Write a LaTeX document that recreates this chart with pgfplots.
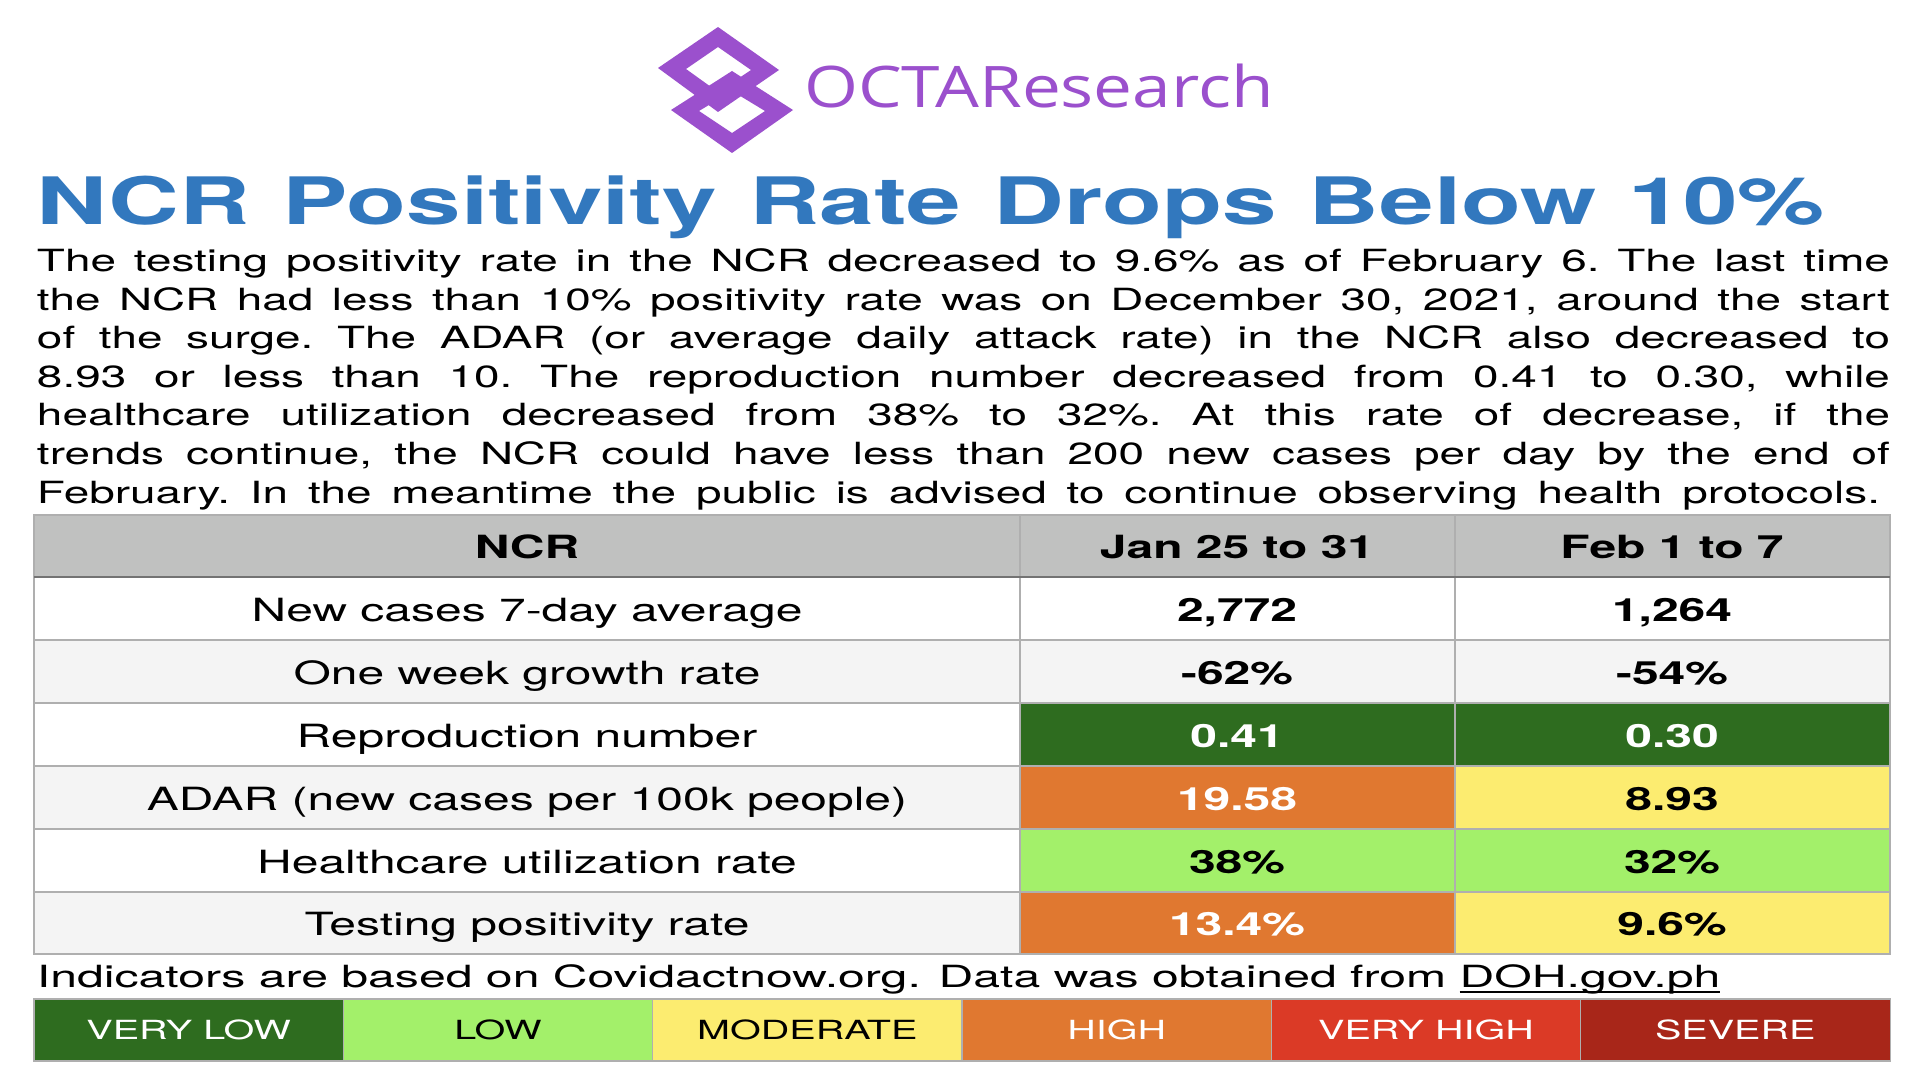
\documentclass[border=0pt]{standalone}
\usepackage{pgfplots}
\pgfplotsset{compat=1.18}
\usepackage{fontspec}
\setmainfont{TeX Gyre Heros}[FakeStretch=1.5]
\newfontfamily\logofont{Open Sans}[FakeStretch=1.21]
\definecolor{hdr}{RGB}{192,193,192}
\definecolor{alt}{RGB}{244,244,244}
\definecolor{vlow}{RGB}{46,108,31}
\definecolor{low}{RGB}{163,240,106}
\definecolor{mod}{RGB}{252,236,112}
\definecolor{high}{RGB}{224,120,48}
\definecolor{vhigh}{RGB}{219,58,38}
\definecolor{sev}{RGB}{168,38,25}
\definecolor{gridc}{RGB}{175,175,175}
\definecolor{ttl}{RGB}{50,120,190}
\definecolor{purp}{RGB}{155,80,205}
\newcommand{\cell}[5]{\addplot[draw=none,fill=#5,mark=none,forget plot] coordinates {(#1,#2) (#3,#2) (#3,#4) (#1,#4)} -- cycle;}
\newcommand{\bodyline}[3]{\node[anchor=base west] at (axis cs:37,#1) {\fontsize{8.7pt}{10pt}\selectfont\frenchspacing\makebox[#2][s]{#3}};}
\newcommand{\ul}[1]{\setbox0\hbox{#1}\rlap{\rule[-0.55mm]{\wd0}{0.2mm}}\box0}
\begin{document}
\begin{tikzpicture}[every node/.style={inner sep=0pt,outer sep=0pt}]
\begin{axis}[name=ax, width=192mm, height=108mm, scale only axis,
  xmin=0, xmax=1920, ymin=0, ymax=1080, y dir=reverse, hide axis, clip=false]
\cell{0}{0}{1920}{1080}{white}
% ---- logo
\fill[purp, even odd rule] (axis cs:658,68) -- (axis cs:718,27) -- (axis cs:779,70) -- (axis cs:718,112) -- cycle
  (axis cs:686,69) -- (axis cs:718,47) -- (axis cs:751,70) -- (axis cs:718,92) -- cycle;
\fill[purp, even odd rule] (axis cs:671,110) -- (axis cs:732,71) -- (axis cs:793,110) -- (axis cs:732,153) -- cycle
  (axis cs:699,111) -- (axis cs:732,91) -- (axis cs:765,111) -- (axis cs:732,133) -- cycle;
\node[anchor=base west, text=purp] at (axis cs:804,108) {\logofont\fontsize{16.3pt}{18pt}\selectfont OCTAResearch};
% ---- title
\node[anchor=base west, text=ttl] at (axis cs:37,225) {\fontsize{18.6pt}{20pt}\selectfont\bfseries\makebox[178.8mm][s]{NCR Positivity Rate Drops Below 10\%}};
% ---- body
\bodyline{272}{185.3mm}{The testing positivity rate in the NCR decreased to 9.6\% as of February 6. The last time}
\bodyline{310.5}{185.3mm}{the NCR had less than 10\% positivity rate was on December 30, 2021, around the start}
\bodyline{349}{185.3mm}{of the surge. The ADAR (or average daily attack rate) in the NCR also decreased to}
\bodyline{387.5}{185.3mm}{8.93 or less than 10. The reproduction number decreased from 0.41 to 0.30, while}
\bodyline{426}{185.3mm}{healthcare utilization decreased from 38\% to 32\%. At this rate of decrease, if the}
\bodyline{464.5}{185.3mm}{trends continue, the NCR could have less than 200 new cases per day by the end of}
\bodyline{503}{184.3mm}{February. In the meantime the public is advised to continue observing health protocols.}
% ---- table cells
\cell{34}{515}{1890}{577}{hdr}
\cell{34}{577}{1890}{640}{white}
\cell{34}{640}{1890}{703}{alt}
\cell{34}{703}{1020}{766}{white}
\cell{1020}{703}{1890}{766}{vlow}
\cell{34}{766}{1020}{829}{alt}
\cell{1020}{766}{1455}{829}{high}
\cell{1455}{766}{1890}{829}{mod}
\cell{34}{829}{1020}{892}{white}
\cell{1020}{829}{1890}{892}{low}
\cell{34}{892}{1020}{954}{alt}
\cell{1020}{892}{1455}{954}{high}
\cell{1455}{892}{1890}{954}{mod}
% grid
\draw[gridc, line width=0.45pt] (axis cs:34,640) -- (axis cs:1890,640);
\draw[gridc, line width=0.45pt] (axis cs:34,703) -- (axis cs:1890,703);
\draw[gridc, line width=0.45pt] (axis cs:34,766) -- (axis cs:1890,766);
\draw[gridc, line width=0.45pt] (axis cs:34,829) -- (axis cs:1890,829);
\draw[gridc, line width=0.45pt] (axis cs:34,892) -- (axis cs:1890,892);
\draw[gridc, line width=0.45pt] (axis cs:1020,515) -- (axis cs:1020,954);
\draw[gridc, line width=0.45pt] (axis cs:1455,515) -- (axis cs:1455,954);
\draw[gridc, line width=0.45pt] (axis cs:34,515) rectangle (axis cs:1890,954);
\draw[black!55, line width=0.6pt] (axis cs:34,577) -- (axis cs:1890,577);
% header text
\node[anchor=base] at (axis cs:527,558.5) {\fontsize{9.1pt}{11pt}\selectfont\bfseries NCR};
\node[anchor=base] at (axis cs:1237,558.5) {\fontsize{9.1pt}{11pt}\selectfont\bfseries Jan 25 to 31};
\node[anchor=base] at (axis cs:1672,558.5) {\fontsize{9.1pt}{11pt}\selectfont\bfseries Feb 1 to 7};
% row labels
\node[anchor=base] at (axis cs:527,621) {\fontsize{9.1pt}{11pt}\selectfont New cases 7-day average};
\node[anchor=base] at (axis cs:527,684) {\fontsize{9.1pt}{11pt}\selectfont One week growth rate};
\node[anchor=base] at (axis cs:527,747) {\fontsize{9.1pt}{11pt}\selectfont Reproduction number};
\node[anchor=base] at (axis cs:527,810) {\fontsize{9.1pt}{11pt}\selectfont ADAR (new cases per 100k people)};
\node[anchor=base] at (axis cs:527,873) {\fontsize{9.1pt}{11pt}\selectfont Healthcare utilization rate};
\node[anchor=base] at (axis cs:527,935.5) {\fontsize{9.1pt}{11pt}\selectfont Testing positivity rate};
% values
\node[anchor=base] at (axis cs:1237,621) {\fontsize{9.1pt}{11pt}\selectfont\bfseries 2,772};
\node[anchor=base] at (axis cs:1672,621) {\fontsize{9.1pt}{11pt}\selectfont\bfseries 1,264};
\node[anchor=base] at (axis cs:1237,684) {\fontsize{9.1pt}{11pt}\selectfont\bfseries -62\%};
\node[anchor=base] at (axis cs:1672,684) {\fontsize{9.1pt}{11pt}\selectfont\bfseries -54\%};
\node[anchor=base, text=white] at (axis cs:1237,747) {\fontsize{9.1pt}{11pt}\selectfont\bfseries 0.41};
\node[anchor=base, text=white] at (axis cs:1672,747) {\fontsize{9.1pt}{11pt}\selectfont\bfseries 0.30};
\node[anchor=base, text=white] at (axis cs:1237,810) {\fontsize{9.1pt}{11pt}\selectfont\bfseries 19.58};
\node[anchor=base] at (axis cs:1672,810) {\fontsize{9.1pt}{11pt}\selectfont\bfseries 8.93};
\node[anchor=base] at (axis cs:1237,873) {\fontsize{9.1pt}{11pt}\selectfont\bfseries 38\%};
\node[anchor=base] at (axis cs:1672,873) {\fontsize{9.1pt}{11pt}\selectfont\bfseries 32\%};
\node[anchor=base, text=white] at (axis cs:1237,935.5) {\fontsize{9.1pt}{11pt}\selectfont\bfseries 13.4\%};
\node[anchor=base] at (axis cs:1672,935.5) {\fontsize{9.1pt}{11pt}\selectfont\bfseries 9.6\%};
% footer
\node[anchor=base west] at (axis cs:37,987) {\fontsize{8.7pt}{10pt}\selectfont\scalebox{1.05}[1]{Indicators are based on Covidactnow.org. Data was obtained from \ul{DOH.gov.ph}}};
% legend
\cell{34}{999}{343.3}{1061}{vlow}
\cell{343.3}{999}{652.7}{1061}{low}
\cell{652.7}{999}{962}{1061}{mod}
\cell{962}{999}{1271.3}{1061}{high}
\cell{1271.3}{999}{1580.7}{1061}{vhigh}
\cell{1580.7}{999}{1890}{1061}{sev}
\draw[gridc, line width=0.3pt] (axis cs:343.3,999) -- (axis cs:343.3,1061);
\draw[gridc, line width=0.3pt] (axis cs:652.7,999) -- (axis cs:652.7,1061);
\draw[gridc, line width=0.3pt] (axis cs:962,999) -- (axis cs:962,1061);
\draw[gridc, line width=0.3pt] (axis cs:1271.3,999) -- (axis cs:1271.3,1061);
\draw[gridc, line width=0.3pt] (axis cs:1580.7,999) -- (axis cs:1580.7,1061);
\draw[gridc, line width=0.3pt] (axis cs:34,999) rectangle (axis cs:1890,1061);
\node[anchor=base, text=white] at (axis cs:188.6,1039.5) {\fontsize{7.5pt}{9pt}\selectfont VERY LOW};
\node[anchor=base] at (axis cs:498,1039.5) {\fontsize{7.5pt}{9pt}\selectfont LOW};
\node[anchor=base] at (axis cs:807.3,1039.5) {\fontsize{7.5pt}{9pt}\selectfont MODERATE};
\node[anchor=base, text=white] at (axis cs:1116.7,1039.5) {\fontsize{7.5pt}{9pt}\selectfont HIGH};
\node[anchor=base, text=white] at (axis cs:1426,1039.5) {\fontsize{7.5pt}{9pt}\selectfont VERY HIGH};
\node[anchor=base, text=white] at (axis cs:1735.3,1039.5) {\fontsize{7.5pt}{9pt}\selectfont SEVERE};
\end{axis}
\pgfresetboundingbox
\path (ax.south west) rectangle (ax.north east);
\end{tikzpicture}
\end{document}
